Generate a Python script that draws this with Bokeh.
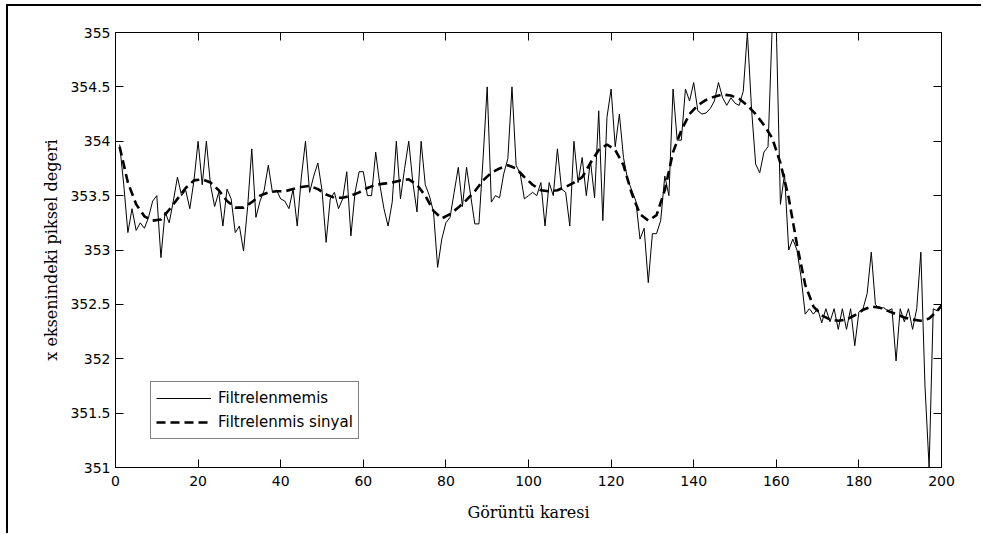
from bokeh.plotting import figure
from bokeh.models import (LinearAxis, Legend, LegendItem, Range1d, FixedTicker,
                          CustomJSTickFormatter)
from bokeh.embed import file_html
from bokeh.resources import INLINE

# ---------------- data ----------------
frames = list(range(1, 201))
raw = [
    353.97, 353.6, 353.16, 353.38, 353.18, 353.25, 353.2, 353.3, 353.45, 353.5,
    352.93, 353.35, 353.25, 353.45, 353.67, 353.5, 353.55, 353.38, 353.64, 354.0,
    353.6, 354.0, 353.6, 353.4, 353.53, 353.22, 353.56, 353.47, 353.16, 353.22,
    352.99, 353.4, 353.93, 353.3, 353.45, 353.55, 353.78, 353.53, 353.55, 353.47,
    353.45, 353.38, 353.56, 353.22, 353.67, 354.0, 353.53, 353.68, 353.8, 353.55,
    353.07, 353.47, 353.53, 353.38, 353.47, 353.72, 353.13, 353.53, 353.72, 353.72,
    353.5, 353.5, 353.9, 353.6, 353.38, 353.22, 353.44, 354.0, 353.47, 353.75,
    354.0, 353.62, 353.35, 354.0, 353.6, 353.5, 353.35, 352.84, 353.1, 353.25,
    353.3, 353.53, 353.76, 353.4, 353.76, 353.5, 353.24, 353.24, 353.84, 354.5,
    353.44, 353.5, 353.48, 353.7, 353.84, 354.5, 353.78, 353.7, 353.47, 353.5,
    353.53, 353.5, 353.62, 353.22, 353.62, 353.5, 353.93, 353.56, 353.53, 353.22,
    354.0, 353.62, 353.85, 353.5, 353.82, 353.48, 354.28, 353.27, 354.22, 354.48,
    353.95, 354.25, 353.85, 353.65, 353.55, 353.45, 353.1, 353.2, 352.7, 353.15,
    353.15, 353.27, 353.68, 353.5, 354.48, 354.01, 354.01, 354.48, 354.37, 354.54,
    354.28, 354.25, 354.26, 354.3, 354.37, 354.54, 354.4, 354.33, 354.4, 354.35,
    354.33, 354.46, 355.0, 354.3, 353.79, 353.71, 353.9, 353.95, 355.05, 355.05,
    353.42, 353.7, 353.0, 353.1, 353.0, 352.75, 352.41, 352.46, 352.41, 352.46,
    352.33, 352.46, 352.34, 352.46, 352.27, 352.46, 352.27, 352.46, 352.12, 352.43,
    352.46, 352.6, 352.98, 352.5, 352.46, 352.47, 352.44, 352.46, 351.98, 352.46,
    352.34, 352.46, 352.27, 352.46, 352.98, 351.75, 351.0, 352.46, 352.44, 352.49,
]

filt_frames = list(range(1, 200, 2)) + [200]
filt = [
    353.95, 353.62, 353.42, 353.31, 353.27, 353.28, 353.37, 353.47, 353.57, 353.64,
    353.65, 353.62, 353.55, 353.45, 353.39, 353.39, 353.44, 353.5, 353.53, 353.54,
    353.54, 353.56, 353.58, 353.59, 353.56, 353.51, 353.48, 353.48, 353.5, 353.53,
    353.57, 353.6, 353.61, 353.62, 353.64, 353.65, 353.6, 353.5, 353.36, 353.29,
    353.33, 353.39, 353.46, 353.54, 353.64, 353.71, 353.75, 353.78, 353.75, 353.67,
    353.6, 353.55, 353.54, 353.55, 353.58, 353.62, 353.67, 353.8, 353.92, 353.97,
    353.92, 353.78, 353.52, 353.33, 353.27, 353.32, 353.55, 353.9, 354.1, 354.25,
    354.33, 354.38, 354.41, 354.43, 354.42, 354.39, 354.33, 354.25, 354.15, 354.03,
    353.8, 353.48, 353.05, 352.68, 352.48, 352.4, 352.36, 352.35, 352.36, 352.4,
    352.45, 352.48, 352.47, 352.44, 352.41, 352.38, 352.36, 352.35, 352.37, 352.44,
    352.49,
]

x_ticks = [0, 20, 40, 60, 80, 100, 120, 140, 160, 180, 200]
y_ticks = [351, 351.5, 352, 352.5, 353, 353.5, 354, 354.5, 355]

legend_labels = ["Filtrelenmemis", "Filtrelenmis sinyal"]
x_title = "Görüntü karesi"
y_title = "x eksenindeki piksel degeri"

# ---------------- figure ----------------
p = figure(width=975, height=529, output_backend="svg", toolbar_location=None,
           x_range=Range1d(0, 200), y_range=Range1d(351, 355),
           min_border_left=107, min_border_right=42, min_border_top=26,
           min_border_bottom=68)
p.styles = {"border-left": "2px solid black", "border-top": "2px solid black",
            "margin-left": "6px", "margin-top": "4px"}
p.background_fill_color = "white"
p.border_fill_color = "white"
p.outline_line_color = "black"
p.outline_line_width = 1
p.xgrid.visible = False
p.ygrid.visible = False

fmt = CustomJSTickFormatter(code="return tick.toString();")
blank_fmt = CustomJSTickFormatter(code="return '';")

def style_axis(ax, show_labels=True):
    ax.axis_line_color = "black"
    ax.major_tick_line_color = "black"
    ax.major_tick_in = 8
    ax.major_tick_out = 0
    ax.minor_tick_line_color = None
    ax.major_label_text_font = "DejaVu Sans"
    ax.major_label_text_font_size = "14px"
    ax.major_label_text_color = "black"
    ax.axis_label_text_font = "DejaVu Serif"
    ax.axis_label_text_font_size = "16px"
    ax.axis_label_text_font_style = "normal"
    ax.axis_label_text_color = "black"
    ax.formatter = fmt if show_labels else blank_fmt
    if not show_labels:
        ax.major_label_standoff = 0

p.xaxis.ticker = FixedTicker(ticks=x_ticks)
p.yaxis.ticker = FixedTicker(ticks=y_ticks)
style_axis(p.xaxis[0])
style_axis(p.yaxis[0])
p.xaxis.axis_label = x_title
p.yaxis.axis_label = y_title
p.xaxis.major_label_standoff = 8
p.xaxis.axis_label_standoff = 14
p.yaxis.major_label_standoff = 5
p.yaxis.axis_label_standoff = 6

top_ax = LinearAxis(ticker=FixedTicker(ticks=x_ticks))
style_axis(top_ax, show_labels=False)
p.add_layout(top_ax, "above")
right_ax = LinearAxis(ticker=FixedTicker(ticks=y_ticks))
style_axis(right_ax, show_labels=False)
p.add_layout(right_ax, "right")

r_raw = p.line(frames, raw, line_color="black", line_width=1)
r_filt = p.line(filt_frames, filt, line_color="black", line_width=2.6,
                line_dash="9 5")

legend = Legend(items=[LegendItem(label=legend_labels[0], renderers=[r_raw]),
                       LegendItem(label=legend_labels[1], renderers=[r_filt])],
                location=(35, 28))
legend.border_line_color = "black"
legend.border_line_width = 1
legend.background_fill_color = "white"
legend.background_fill_alpha = 1.0
legend.label_text_font = "DejaVu Sans"
legend.label_text_font_size = "15px"
legend.label_text_color = "black"
legend.glyph_width = 55
legend.glyph_height = 20
legend.label_height = 22
legend.label_standoff = 7
legend.spacing = 2
legend.padding = 5
legend.margin = 0
p.add_layout(legend)

open("out.html", "w").write(file_html(p, INLINE))
